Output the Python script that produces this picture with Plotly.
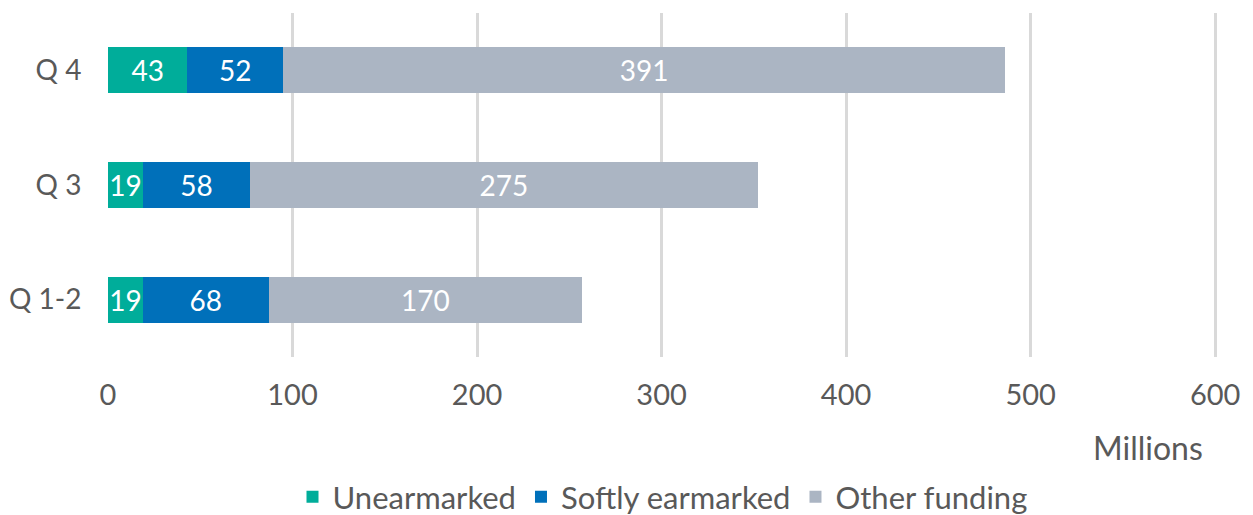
import plotly.graph_objects as go

categories = ["Q 1-2", "Q 3", "Q 4"]
unearmarked = [19, 19, 43]
softly_earmarked = [68, 58, 52]
other_funding = [170, 275, 391]
series_names = ["Unearmarked", "Softly earmarked", "Other funding"]
colors = ["#00AD9A", "#0070BA", "#ABB5C3"]
x_ticks = [0, 100, 200, 300, 400, 500, 600]

FONT = "Lato"
GREY = "#595959"
fig = go.Figure()
for name, vals, col in zip(series_names, [unearmarked, softly_earmarked, other_funding], colors):
    fig.add_trace(go.Bar(
        y=categories, x=vals, name=name, orientation="h",
        marker=dict(color=col, line=dict(width=0)),
        text=[str(v) for v in vals], textposition="inside",
        insidetextanchor="middle", constraintext="none",
        textfont=dict(color="white", size=28, family=FONT),
    ))

fig.update_layout(
    barmode="stack", bargap=0.6,
    width=1253, height=515,
    margin=dict(l=100, r=44, t=5, b=166, autoexpand=False),
    plot_bgcolor="white", paper_bgcolor="white",
    font=dict(family=FONT, color=GREY, size=28),
    uniformtext=dict(minsize=28, mode="show"),
    legend=dict(orientation="h", x=0.5, xanchor="center", y=-0.407, yanchor="middle",
                font=dict(size=31, color=GREY, family=FONT), traceorder="normal",
                itemsizing="constant"),
    xaxis=dict(range=[0, 601], tickvals=x_ticks, showgrid=True, gridcolor="#D9D9D9",
               gridwidth=3, zeroline=False, showline=False, automargin=False,
               ticks="outside", ticklen=12, tickcolor="rgba(0,0,0,0)",
               tickfont=dict(size=29, color=GREY, family=FONT)),
    yaxis=dict(showgrid=False, zeroline=False, showline=False, automargin=False,
               ticks="outside", ticklen=20, tickcolor="rgba(0,0,0,0)",
               tickfont=dict(size=28, color=GREY, family=FONT)),
    annotations=[dict(text="Millions", xref="paper", yref="paper", x=0.989, y=-0.262,
                      xanchor="right", yanchor="middle", showarrow=False,
                      font=dict(size=32, color=GREY, family=FONT))],
)
fig.write_html("out.html")
